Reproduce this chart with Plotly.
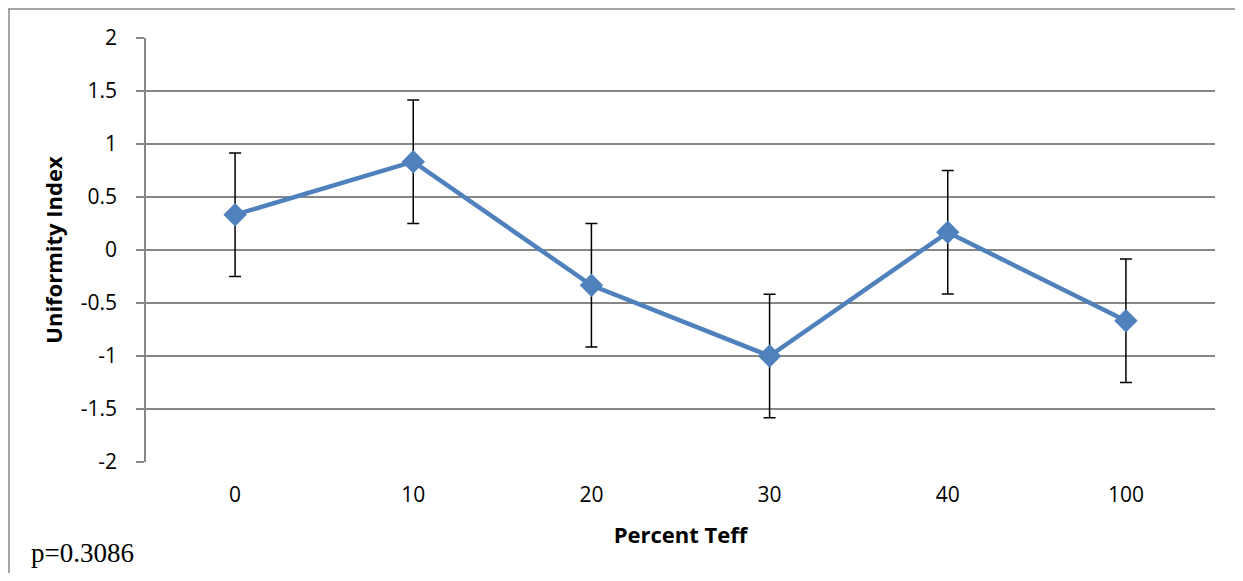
import plotly.graph_objects as go

categories = ["0", "10", "20", "30", "40", "100"]
values = [0.333, 0.833, -0.333, -1.0, 0.167, -0.667]
errors = [0.583, 0.583, 0.583, 0.583, 0.583, 0.583]
y_ticks = [2, 1.5, 1, 0.5, 0, -0.5, -1, -1.5, -2]
y_tick_text = ["2", "1.5", "1", "0.5", "0", "-0.5", "-1", "-1.5", "-2"]

# page has an 8px body margin; figure coordinates are page - 8.
# keep the figure inside the window so no scrollbars appear
OFF = 8
W, H = 1243 - 2 * OFF, 581 - 2 * OFF
L, T = 146 - OFF, 38 - OFF
R = W - (1215 - OFF)
B = H - (462 - OFF)
pw, ph = W - L - R, H - T - B

fig = go.Figure()
fig.add_trace(go.Scatter(
    x=list(range(len(categories))), y=values,
    mode="lines+markers",
    line=dict(color="#4F81BD", width=4.5),
    marker=dict(symbol="diamond", size=18, color="#4F81BD"),
    error_y=dict(type="data", array=errors, visible=True, color="black", thickness=1.5, width=6),
    showlegend=False,
))

def px_x(p):
    return (p - OFF - L) / pw

def px_y(p):
    return 1 - (p - OFF - T) / ph

border = dict(color="#878787", width=1.5)
# outer chart border: only left and top edges are visible in the frame
fig.add_shape(type="line", xref="paper", yref="paper",
              x0=px_x(OFF + 1), x1=px_x(OFF + 1), y0=px_y(8.5), y1=px_y(600), line=border)
fig.add_shape(type="line", xref="paper", yref="paper",
              x0=px_x(OFF + 0.5), x1=px_x(1260), y0=px_y(OFF + 1), y1=px_y(OFF + 1), line=border)

fig.add_annotation(text="p=0.3086", xref="paper", yref="paper",
                   x=px_x(29), y=px_y(553), xanchor="left", yanchor="middle",
                   showarrow=False, font=dict(family="Liberation Serif", size=27, color="black"))

font = "Open Sans"
fig.update_layout(
    width=W, height=H,
    margin=dict(l=L, r=R, t=T, b=B),
    paper_bgcolor="white", plot_bgcolor="white",
    font=dict(family=font, size=21, color="black"),
    xaxis=dict(
        tickmode="array", tickvals=list(range(len(categories))), ticktext=categories,
        range=[-0.5, len(categories) - 0.5],
        showgrid=False, zeroline=False, showline=False, ticks="",
        tickfont=dict(size=21), ticklen=0, ticklabelstandoff=18,
        title=dict(text="<b>Percent Teff</b>", font=dict(size=22), standoff=20),
    ),
    yaxis=dict(
        tickmode="array", tickvals=y_ticks, ticktext=y_tick_text,
        range=[-2, 2],
        showgrid=True, gridcolor="#868686", gridwidth=1.5,
        zeroline=False, showline=True, linecolor="#868686", linewidth=1.5,
        ticks="outside", ticklen=8, tickcolor="#868686", tickwidth=1.5,
        tickfont=dict(size=21), ticklabelstandoff=15,
        title=dict(text="<b>Uniformity Index</b>", font=dict(size=22), standoff=12),
    ),
)

fig.write_html("out.html")
